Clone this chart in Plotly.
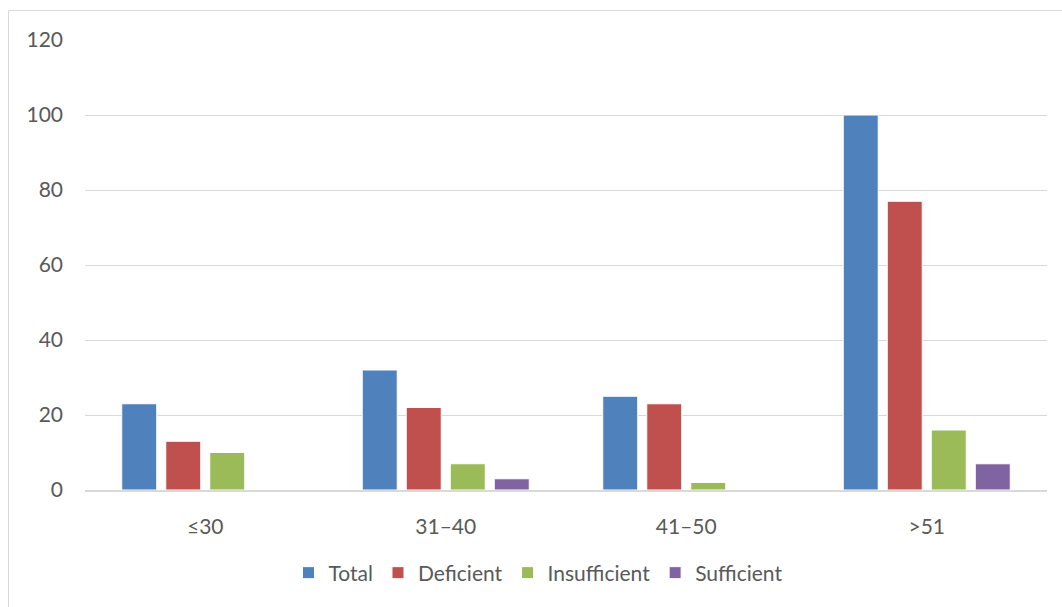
import plotly.graph_objects as go

categories = ["≤30", "31–40", "41–50", ">51"]
total = [23, 32, 25, 100]
deficient = [13, 22, 23, 77]
insufficient = [10, 7, 2, 16]
sufficient = [0, 3, 0, 7]
y_ticks = [0, 20, 40, 60, 80, 100, 120]

series = [
    ("Total", total, "#4F81BD"),
    ("Deficient", deficient, "#C0504D"),
    ("Insufficient", insufficient, "#9BBB59"),
    ("Sufficient", sufficient, "#8064A2"),
]

fig = go.Figure()
for name, vals, color in series:
    fig.add_trace(go.Bar(
        x=categories, y=vals, name=name,
        marker=dict(color=color, line=dict(color="white", width=1)),
    ))

W, H = 1062, 607
ml, mr, mt, mb = 85, 15, 40, 117
pw = W - ml - mr
ph = H - mt - mb

def px_x(x):
    return (x - ml) / pw

def px_y(y):
    return (H - mb - y) / ph

fig.update_layout(
    width=W, height=H,
    margin=dict(l=ml, r=mr, t=mt, b=mb),
    paper_bgcolor="white", plot_bgcolor="white",
    barmode="group", bargap=0.268, bargroupgap=0.205,
    font=dict(family="Lato, Carlito, sans-serif", size=21, color="#595959"),
    showlegend=True,
    legend=dict(orientation="h", x=px_x(538), xanchor="center",
                y=px_y(573), yanchor="middle", font=dict(size=21),
                itemwidth=30, tracegroupgap=0),
    xaxis=dict(showline=True, linecolor="#d9d9d9", linewidth=1.5,
               ticks="", showgrid=False, ticklabelstandoff=17),
    yaxis=dict(range=[0, 120], tickvals=y_ticks, showgrid=True,
               gridcolor="#d9d9d9", gridwidth=1, zeroline=False,
               showline=False, ticks="", ticklabelstandoff=21),
    shapes=[dict(type="rect", xref="paper", yref="paper",
                 x0=px_x(8.5), x1=px_x(1070), y0=px_y(620), y1=px_y(10.5),
                 line=dict(color="#d9d9d9", width=1), fillcolor="rgba(0,0,0,0)",
                 layer="below")],
)

fig.write_html("out.html")
